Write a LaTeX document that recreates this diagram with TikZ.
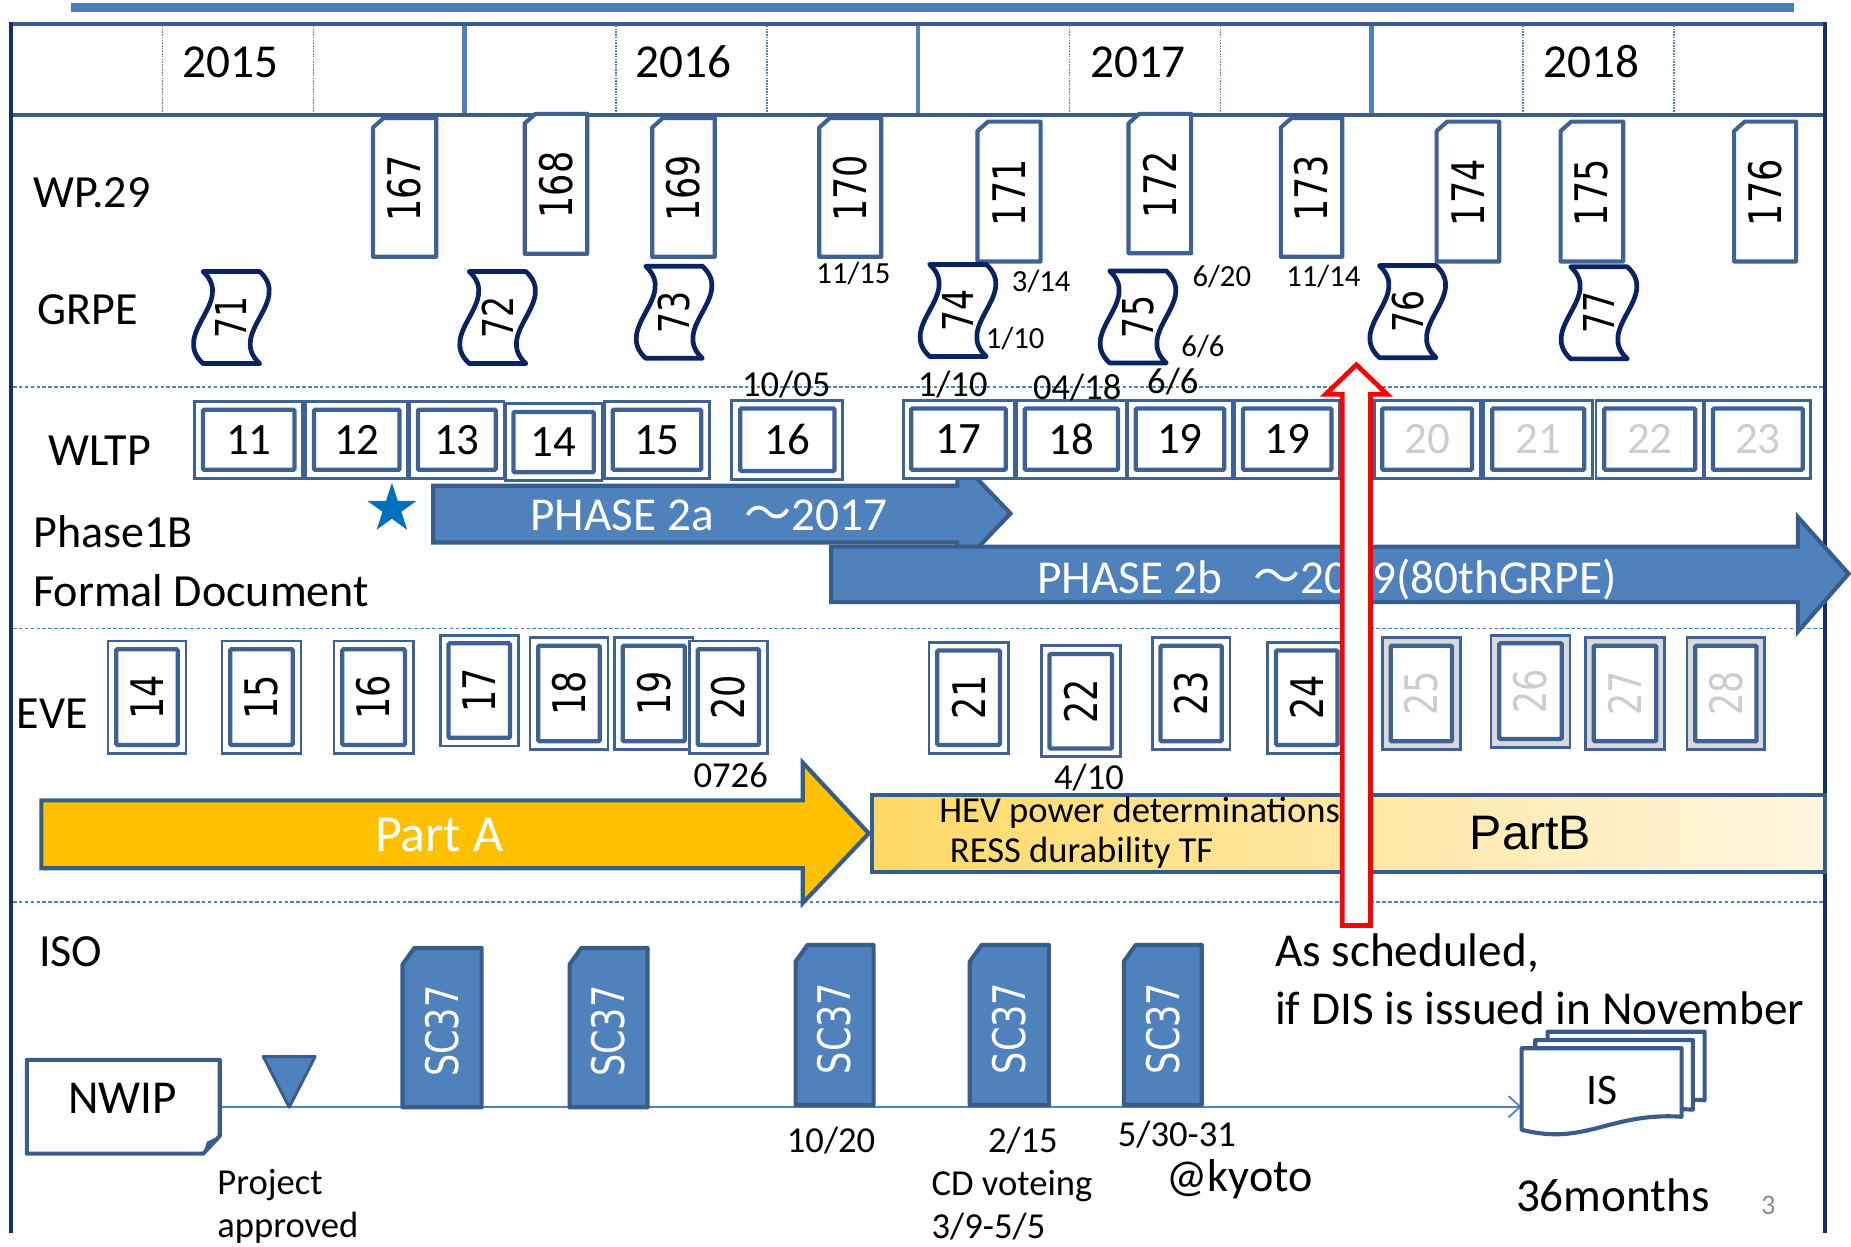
\documentclass[tikz,border=0pt]{standalone}
\usepackage{fontspec}
\usepackage{graphicx}
\setmainfont{Carlito}
\newfontfamily\rotf{DejaVu Sans}
\newfontfamily\arialf{Liberation Sans}
\newfontfamily\cjkf{Noto Sans CJK JP}
\usetikzlibrary{shapes.geometric,arrows.meta}
\newcommand\fsz[1]{\fontsize{#1}{#1}\selectfont}
\newcommand\rtxt[1]{\scalebox{0.78}[1]{#1}}
\newcommand\tilj{{\cjkf ～}}
\definecolor{cnavy}{RGB}{23,48,102}
\definecolor{chdr}{RGB}{58,92,140}
\definecolor{cmid}{RGB}{79,129,189}
\definecolor{ctop}{RGB}{74,126,187}
\definecolor{cbox}{RGB}{62,98,148}
\definecolor{ctape}{RGB}{10,36,99}
\definecolor{carr}{RGB}{56,93,138}
\definecolor{cgold}{RGB}{255,192,0}
\definecolor{cgrey}{RGB}{217,217,217}
\definecolor{cgreytxt}{RGB}{205,205,205}
\definecolor{cpbl}{RGB}{255,217,102}
\definecolor{cpbr}{RGB}{255,246,224}
\definecolor{cpage}{RGB}{140,140,140}
\definecolor{cstar}{RGB}{0,112,192}
\tikzset{
  lbl/.style={anchor=base west, inner sep=0pt, font=\fsz{39}},
  yr/.style={anchor=base, inner sep=0pt, font=\fsz{40}},
  sm/.style={anchor=base, inner sep=0pt, font=\fsz{26}},
  md/.style={anchor=base, inner sep=0pt, font=\fsz{31}},
  mdw/.style={anchor=base west, inner sep=0pt, font=\fsz{31}},
  rot/.style={rotate=90, inner sep=0pt, font=\rotf\fsz{38}},
  wlnum/.style={inner sep=0pt, font=\fsz{38}},
  wpline/.style={draw=cbox, line width=3.5pt, fill=white, line join=round},
  tapeline/.style={draw=ctape, line width=4pt, fill=white, line join=round},
  outerbox/.style={draw=cbox, line width=2.4pt, fill=white},
  innerbox/.style={draw=cbox, line width=3.6pt, fill=white, rounded corners=1pt},
  arrshape/.style={draw=carr, line width=3.5pt, line join=miter},
  scline/.style={draw=carr, line width=3.5pt, fill=cmid, line join=round},
  docline/.style={draw=carr, line width=3.5pt, fill=white, line join=round},
  wtxt/.style={inner sep=0pt, anchor=base, text=white},
}
\newcommand\wpb[6]{%
  \draw[wpline] ({#2+9},#3) -- (#4,#3) -- (#4,#5) -- (#2,#5) -- (#2,{#3+8}) -- cycle;
  \node[rot] (#1) at ({(#2+#4)/2},{(#3+#5)/2+1}) {\rtxt{#6}};}
\newcommand\grtape[4]{%
  \draw[tapeline] ({#2-24},{#3-39}) -- ({#2+24},{#3-39})
    .. controls ({#2+52},{#3-13}) and ({#2-4},{#3+13}) .. ({#2+24},{#3+39})
    -- ({#2-24},{#3+39})
    .. controls ({#2-52},{#3+13}) and ({#2+4},{#3-13}) .. ({#2-24},{#3-39}) -- cycle;
  \node[rot, font=\rotf\fsz{36}] (#1) at (#2,#3) {\rtxt{#4}};}
\newcommand\dbx[8]{%
  \draw[outerbox,#6] (#2,#3) rectangle (#4,#5);
  \draw[innerbox] ({#2+7},{#3+7}) rectangle ({#4-7},{#5-7});
  \node[#7] (#1) at ({(#2+#4)/2},{(#3+#5)/2}) {#8};}
\newcommand\scb[5]{%
  \draw[scline] ({#2+10},#3) -- (#4,#3) -- (#4,#5) -- (#2,#5) -- (#2,{#3+14}) -- cycle;
  \node[rot, text=white] (#1) at ({(#2+#4)/2},{(#3+#5)/2+3}) {\rtxt{SC37}};}
\newcommand\docp[5]{%
  \draw[docline] (#1,#2) -- (#3,#2) -- (#3,#4)
    .. controls ({#3-0.45*(#3-#1)},{#4-4}) and ({#1+0.4*(#3-#1)},{#5+14}) .. (#1,#5) -- cycle;}

\begin{document}
\begin{tikzpicture}[x=1pt,y=-1pt]
\useasboundingbox[fill=white] (0,0) rectangle (1568,1056);

% ---------- frame and header ----------
\draw[ctop, line width=7pt] (60,6.3) -- (1520,6.3);
\foreach \xx in {137.5,265.5,521.7,649.8,905.9,1034,1290,1418}
  \draw[cmid, line width=1.3pt, densely dotted] (\xx,22) -- (\xx,96);
\foreach \xx in {393.6,777.7,1162}
  \draw[cmid, line width=4pt] (\xx,20) -- (\xx,97.5);
\draw[chdr, line width=4pt] (9,20.3) -- (1546,20.3);
\draw[chdr, line width=4pt] (9,97.5) -- (1546,97.5);
\draw[cnavy, line width=3.5pt] (9,18.5) -- (9,1044.5);
\draw[cnavy, line width=3.5pt] (1546,18.5) -- (1546,1044.5);
\foreach \yy in {328,532.5,764}
  \draw[cmid, line width=1.3pt, dash pattern=on 3pt off 2pt] (11,\yy) -- (1544,\yy);

\node[yr] (y2015) at (195,66) {2015};
\node[yr] (y2016) at (579,66) {2016};
\node[yr] (y2017) at (964,66) {2017};
\node[yr] (y2018) at (1348,66) {2018};

% ---------- row labels ----------
\node[lbl] (lwp) at (28,176) {WP.29};
\node[lbl] (lgrpe) at (31.5,274.5) {GRPE};
\node[lbl] (lwltp) at (40.5,394) {WLTP};
\node[lbl] (lph) at (28,464) {Phase1B};
\node[lbl] (lfd) at (28,513.5) {Formal Document};
\node[lbl] (leve) at (14,617) {EVE};
\node[lbl] (liso) at (33,819) {ISO};

% ---------- WP.29 ----------
\wpb{wp167}{316}{100}{369.5}{217.5}{167}
\wpb{wp168}{444.5}{96.5}{497.5}{215}{168}
\wpb{wp169}{552.5}{100}{605.5}{217.5}{169}
\wpb{wp170}{694}{100}{746.5}{217.5}{170}
\wpb{wp171}{828}{103}{881.5}{221.5}{171}
\wpb{wp172}{956}{96.5}{1009}{214.5}{172}
\wpb{wp173}{1085}{100}{1137}{217.5}{173}
\wpb{wp174}{1217}{103}{1270}{221.5}{174}
\wpb{wp175}{1322}{103}{1375}{221.5}{175}
\wpb{wp176}{1469}{103}{1521.5}{221.5}{176}

% ---------- GRPE ----------
\grtape{g71}{196}{269}{71}
\grtape{g72}{421.5}{269}{72}
\grtape{g73}{571}{264.5}{73}
\grtape{g74}{811.5}{263}{74}
\grtape{g75}{964}{268.5}{75}
\grtape{g76}{1192.5}{264}{76}
\grtape{g77}{1354.5}{265}{77}

\node[sm] (d1115) at (723,240) {11/15};
\node[sm] (d314) at (882,247) {3/14};
\node[sm] (d110a) at (860,295) {1/10};
\node[sm] (d620) at (1035,243) {6/20};
\node[sm] (d66a) at (1019,302) {6/6};
\node[sm] (d1114) at (1121,243) {11/14};

% ---------- WLTP ----------
\draw[arrshape, fill=cmid] (367,411.5) -- (811,411.5) -- (811,388) -- (856,435)
  -- (811,482) -- (811,459.5) -- (367,459.5) -- cycle;

\dbx{w11}{165}{340}{256.5}{405}{}{wlnum}{11}
\dbx{w12}{259}{340}{345.5}{405}{}{wlnum}{12}
\dbx{w13}{347}{340}{427}{405}{}{wlnum}{13}
\dbx{w14}{428}{342}{510}{407}{}{wlnum}{14}
\dbx{w15}{512}{340}{601}{405}{}{wlnum}{15}
\dbx{w16}{620}{339}{714}{406}{}{wlnum}{16}
\dbx{w17}{765}{339}{859}{405}{}{wlnum}{17}
\dbx{w18}{861}{339}{954}{405}{}{wlnum}{18}
\dbx{w19}{955}{339}{1044}{405}{}{wlnum}{19}
\dbx{w19b}{1046}{339}{1135}{405}{}{wlnum}{19}
\dbx{w20}{1164}{339}{1254}{405}{}{wlnum,text=cgreytxt}{20}
\dbx{w21}{1257}{339}{1349}{405}{}{wlnum,text=cgreytxt}{21}
\dbx{w22}{1352}{339}{1443}{405}{}{wlnum,text=cgreytxt}{22}
\dbx{w23}{1444}{339}{1534}{405}{}{wlnum,text=cgreytxt}{23}

\node[md] (d1005) at (666,336) {10/05};
\node[md] (d110b) at (807,336) {1/10};
\node[md] (d0418) at (912.5,338) {04/18};
\node[md] (d66b) at (993.5,333) {6/6};

\node[star, star points=5, star point ratio=2.618, fill=cstar, inner sep=0pt, minimum size=44pt] (star) at (332,431) {};

\node[wtxt, font=\fsz{40}] (ph2a) at (600.5,449) {PHASE 2a\hspace{26pt}\tilj 2017};

\draw[arrshape, fill=cmid] (704,463) -- (1523,463) -- (1523,438) -- (1566,486)
  -- (1523,535) -- (1523,510) -- (704,510) -- cycle;
\node[wtxt, font=\fsz{40}] (ph2b) at (1124,502.5) {PHASE 2b\hspace{26pt}\tilj 2019(80thGRPE)};

% ---------- EVE ----------
\dbx{e14}{91.5}{543}{157.5}{638}{}{rot}{\rtxt{14}}
\dbx{e15}{188}{543}{255}{638}{}{rot}{\rtxt{15}}
\dbx{e16}{283}{543}{350}{638}{}{rot}{\rtxt{16}}
\dbx{e17}{373}{538}{439}{632}{}{rot}{\rtxt{17}}
\dbx{e18}{449}{540}{515}{635}{}{rot}{\rtxt{18}}
\dbx{e19}{520.5}{540}{587}{635}{}{rot}{\rtxt{19}}
\dbx{e20}{584}{543}{650}{638}{}{rot}{\rtxt{20}}
\dbx{e21}{787}{544}{854}{638}{}{rot}{\rtxt{21}}
\dbx{e22}{882}{547}{949}{641}{}{rot}{\rtxt{22}}
\dbx{e23}{976}{540}{1042}{635}{}{rot}{\rtxt{23}}
\dbx{e24}{1074}{544}{1140}{638}{}{rot}{\rtxt{24}}
\dbx{e25}{1171}{540}{1237}{635}{fill=cgrey}{rot,text=cgreytxt}{\rtxt{25}}
\dbx{e26}{1263}{538}{1330}{633}{fill=cgrey}{rot,text=cgreytxt}{\rtxt{26}}
\dbx{e27}{1343}{540}{1410}{635}{fill=cgrey}{rot,text=cgreytxt}{\rtxt{27}}
\dbx{e28}{1429}{540}{1495}{635}{fill=cgrey}{rot,text=cgreytxt}{\rtxt{28}}

\node[md] (d0726) at (619,667.5) {0726};
\node[md] (d410) at (922.5,669) {4/10};

\draw[arrshape, fill=cgold] (35,678) -- (680,678) -- (680,646) -- (736,706)
  -- (680,765) -- (680,735.5) -- (35,735.5) -- cycle;
\node[wtxt, font=\fsz{44}] (parta) at (372,721.7) {Part A};

\draw[draw=carr, line width=3.5pt, left color=cpbl, right color=cpbr] (739,673.5) rectangle (1546,738.5);
\node[anchor=base west, inner sep=0pt, font=\fsz{31}] (hev) at (795.6,697) {HEV power determinations};
\node[anchor=base west, inner sep=0pt, font=\fsz{31}] (ress) at (804.5,731) {RESS durability TF};
\node[anchor=base, inner sep=0pt, font=\arialf\fsz{41}] (partb) at (1296.5,720) {PartB};

% ---------- ISO ----------
\node[minimum width=163pt, minimum height=79pt, inner sep=0pt] (nwip) at (104.5,937.5) {};
\coordinate (isin) at (1289,937.5);
\draw[cmid, line width=1.5pt, -{Straight Barb[length=10pt,width=18pt,line width=1.5pt]}] (nwip.east) -- (isin);

\draw[docline] (nwip.north west) -- (nwip.north east) -- ([yshift=15pt]nwip.south east)
  -- ([xshift=-14pt]nwip.south east) -- (nwip.south west) -- cycle;
\fill[carr] ([xshift=-14pt]nwip.south east) -- ([xshift=-11pt,yshift=10pt]nwip.south east)
  -- ([yshift=15pt]nwip.south east) -- cycle;
\node[anchor=base, inner sep=0pt, font=\fsz{40}] (nwipt) at (104,943) {NWIP};

\draw[draw=carr, line width=2.5pt, fill=cmid, line join=round] (223,895) -- (267,895) -- (245,938) -- cycle;

\scb{sc1}{341}{803}{408}{938}
\scb{sc2}{482.5}{803}{548.5}{938}
\scb{sc3}{674}{800.5}{740}{936}
\scb{sc4}{821.5}{800.5}{888.5}{936}
\scb{sc5}{952}{800.5}{1018}{936}

\docp{1311}{874}{1444}{932}{943}
\docp{1300.5}{881}{1434}{940}{950}
\docp{1289}{888}{1424.5}{946}{957}
\node[anchor=base, inner sep=0pt, font=\fsz{37}] (ist) at (1357,936) {IS};

\node[mdw] (proj) at (184,1012) {Project};
\node[mdw] (appr) at (184,1048.5) {approved};
\node[md] (d1020) at (704,976) {10/20};
\node[md] (d215) at (866.5,976) {2/15};
\node[mdw] (cdv) at (789,1013) {CD voteing};
\node[mdw] (cdd) at (789,1049.5) {3/9-5/5};
\node[md] (d530) at (997,971.5) {5/30-31};
\node[lbl] (kyoto) at (988,1009.5) {@kyoto};
\node[lbl, font=\fsz{40}] (sched1) at (1080,819) {As scheduled,};
\node[lbl, font=\fsz{40}] (sched2) at (1080,868) {if DIS is issued in November};
\node[lbl, font=\fsz{40}] (months) at (1284,1026.5) {36months};
\node[anchor=base, inner sep=0pt, font=\fsz{24}, text=cpage] (pg) at (1498,1029) {3};

% ---------- red arrow ----------
\draw[red, line width=4pt, fill=white, line join=miter] (1137,784) -- (1137,334) -- (1123,334)
  -- (1149,309) -- (1175,334) -- (1161,334) -- (1161,784) -- cycle;
\end{tikzpicture}
\end{document}
